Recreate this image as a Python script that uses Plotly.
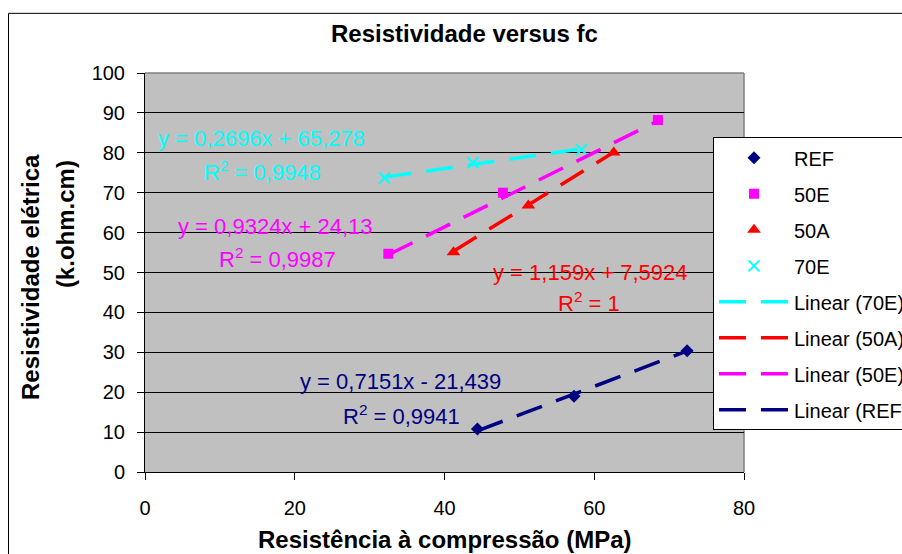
import plotly.graph_objects as go

# ---------------- data ----------------
series_names = ["REF", "50E", "50A", "70E"]
ref_x = [44.4, 57.3, 72.4]
ref_y = [10.8, 19.0, 30.4]
e50_x = [32.5, 47.8, 68.5]
e50_y = [54.7, 70.0, 88.2]
a50_x = [41.2, 51.2, 62.6]
a50_y = [55.1, 66.8, 80.1]
e70_x = [32.0, 43.8, 58.3]
e70_y = [73.7, 77.5, 80.8]

# linear trend coefficients as printed on the chart (same order as series_names)
slopes = [0.7151, 0.9324, 1.159, 0.2696]
intercepts = [-21.439, 24.13, 7.5924, 65.278]
r_squared = [0.9941, 0.9987, 1, 0.9948]

x_ticks = [0, 20, 40, 60, 80]
y_ticks = [0, 10, 20, 30, 40, 50, 60, 70, 80, 90, 100]

title_text = "Resistividade versus fc"
x_title = "Resistência à compressão (MPa)"
y_title_1 = "Resistividade elétrica"
y_title_2 = "(k.ohm.cm)"

# ---------------- styles ----------------
FONT = "Liberation Sans, Arial, sans-serif"
W, H = 902, 554
OFF = 0  # page body margin removed below
# plot area in screen pixels
P_LEFT, P_RIGHT, P_TOP, P_BOTTOM = 145, 744, 72.5, 472.5
ML = P_LEFT - OFF
MT = P_TOP - OFF
MB = H - (P_BOTTOM - OFF)
PW = W - ML
PH = H - MT - MB

colors = ["#000080", "#FF00FF", "#FF0000", "#00FFFF"]
symbols = ["diamond", "square", "triangle-up", "x-thin"]
msizes = [10, 10, 12, 11]
xs = [ref_x, e50_x, a50_x, e70_x]
ys = [ref_y, e50_y, a50_y, e70_y]


def sx(px):
    return (px - OFF - ML) / PW


def sy(py):
    return (H - MB - (py - OFF)) / PH


def fmt(v):
    return ("%g" % v).replace(".", ",")


fig = go.Figure()

# markers
for i, name in enumerate(series_names):
    fig.add_trace(go.Scatter(
        x=xs[i], y=ys[i], mode="markers", name=name,
        legendgroup="g" + name,
        marker=dict(symbol=symbols[i], size=msizes[i], color=colors[i],
                    line=dict(color=colors[i], width=2 if symbols[i] == "x-thin" else 0)),
        cliponaxis=False,
    ))

# trend lines (legend order: 70E, 50A, 50E, REF)
for i in [3, 2, 1, 0]:
    x0, x1 = min(xs[i]), max(xs[i])
    fig.add_trace(go.Scatter(
        x=[x0, x1], y=[slopes[i] * x0 + intercepts[i], slopes[i] * x1 + intercepts[i]],
        mode="lines", name="Linear (%s)" % series_names[i],
        legendgroup="t" + series_names[i],
        line=dict(color=colors[i], width=3.5, dash="27px,15px"),
    ))

# equation labels (screen pixel positions)
eq_pos = {  # series index: (eq center x, eq y, r2 center x, r2 y)
    3: (261, 138, 262, 171),
    1: (275, 226, 277, 258),
    2: (590, 272, 589, 302),
    0: (400, 382, 401, 415),
}
annotations = []
for i, (ex, ey, rx, ry) in eq_pos.items():
    b = intercepts[i]
    sign = "+" if b >= 0 else "-"
    eq = "y = %sx %s %s" % (fmt(slopes[i]), sign, fmt(abs(b)))
    annotations.append(dict(text=eq, xref="paper", yref="paper", x=sx(ex), y=sy(ey),
                            xanchor="center", yanchor="middle", showarrow=False,
                            font=dict(family=FONT, size=22, color=colors[i])))
    annotations.append(dict(text="R<sup>2</sup> = %s" % fmt(r_squared[i]), xref="paper", yref="paper",
                            x=sx(rx), y=sy(ry), xanchor="center", yanchor="middle", showarrow=False,
                            font=dict(family=FONT, size=22, color=colors[i])))

# titles
annotations.append(dict(text="<b>%s</b>" % title_text, xref="paper", yref="paper",
                        x=sx(464), y=sy(32.5), xanchor="center", yanchor="middle", showarrow=False,
                        font=dict(family=FONT, size=24, color="black")))
annotations.append(dict(text="<b>%s</b>" % x_title, xref="paper", yref="paper",
                        x=sx(445), y=sy(540), xanchor="center", yanchor="middle", showarrow=False,
                        font=dict(family=FONT, size=24, color="black")))
annotations.append(dict(text="<b>%s</b>" % y_title_1, xref="paper", yref="paper", textangle=-90,
                        x=sx(31), y=sy(277), xanchor="center", yanchor="middle", showarrow=False,
                        font=dict(family=FONT, size=24, color="black")))
annotations.append(dict(text="<b>%s</b>" % y_title_2, xref="paper", yref="paper", textangle=-90,
                        x=sx(65), y=sy(224), xanchor="center", yanchor="middle", showarrow=False,
                        font=dict(family=FONT, size=24, color="black")))

shapes = [
    # outer chart frame
    dict(type="rect", xref="paper", yref="paper", x0=sx(8.5), y0=sy(620), x1=sx(990), y1=sy(12.7),
         line=dict(color="black", width=1), fillcolor="rgba(0,0,0,0)", layer="below"),
    # plot area top / right border
    dict(type="line", xref="x domain", yref="y domain", x0=0, x1=1, y0=1, y1=1,
         line=dict(color="#808080", width=1.5), layer="above"),
    dict(type="line", xref="x domain", yref="y domain", x0=1, x1=1, y0=0, y1=1,
         line=dict(color="#808080", width=1.5), layer="below"),
]

fig.update_layout(
    width=W, height=H,
    margin=dict(l=ML, r=0, t=MT, b=MB, autoexpand=False),
    paper_bgcolor="white",
    plot_bgcolor="#C0C0C0",
    font=dict(family=FONT, color="black"),
    showlegend=True,
    legend=dict(x=sx(713), y=sy(137), xanchor="left", yanchor="top",
                bgcolor="white", bordercolor="black", borderwidth=1,
                font=dict(family=FONT, size=20, color="black"),
                itemwidth=70, tracegroupgap=7, traceorder="grouped"),
    xaxis=dict(domain=[0, (P_RIGHT - P_LEFT) / PW], range=[0, 80], tickvals=x_ticks,
               showgrid=False, zeroline=False, showline=True, linecolor="black", linewidth=1,
               ticks="outside", ticklen=7, tickcolor="black",
               tickfont=dict(family=FONT, size=20, color="black"), ticklabelstandoff=11),
    yaxis=dict(range=[0, 100], tickvals=y_ticks,
               showgrid=True, gridcolor="black", gridwidth=1, zeroline=False,
               showline=True, linecolor="black", linewidth=1,
               ticks="outside", ticklen=7, tickcolor="black",
               tickfont=dict(family=FONT, size=20, color="black"), ticklabelstandoff=8),
    annotations=annotations,
    shapes=shapes,
)

fig.write_html("out.html", config={"displayModeBar": False},
               post_script="document.body.style.margin='0';document.body.style.overflow='hidden';")
